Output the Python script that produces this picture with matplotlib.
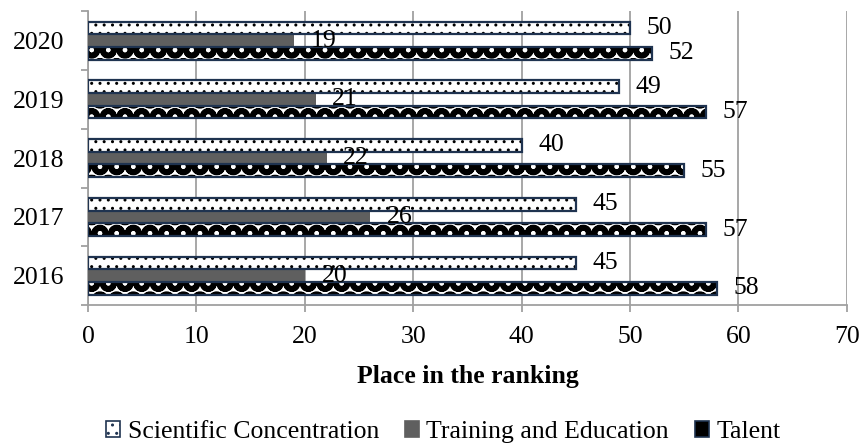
import numpy as np
import matplotlib
matplotlib.use("Agg")
import matplotlib.pyplot as plt
from matplotlib.patches import Rectangle

years = ["2016", "2017", "2018", "2019", "2020"]
scientific = [45, 45, 40, 49, 50]
training = [20, 26, 22, 21, 19]
talent = [58, 57, 55, 57, 52]
series_names = ["Scientific Concentration", "Training and Education", "Talent"]

plt.rcParams["font.family"] = ["Liberation Serif", "DejaVu Serif"]
plt.rcParams["hatch.linewidth"] = 1.0

fs = 18.5
fig = plt.figure(figsize=(8.64, 4.48), dpi=100)
ax = fig.add_axes([0.102, 0.319, 0.878, 0.656])

y = np.arange(len(years))
h = 0.216
navy = "#1f3350"
grid_c = "#a0a0a0"
grey = "#5f5f5f"

# scientific concentration: white with small dots
b1 = ax.barh(y + h, scientific, height=h, color="white", edgecolor="black",
             hatch="..", linewidth=0, zorder=3)
ax.barh(y + h, scientific, height=h, fill=False, edgecolor=navy, linewidth=1.6, zorder=4)

# training: plain dark grey
b2 = ax.barh(y, training, height=h, color=grey, linewidth=0, zorder=3)

# talent: large black blobs on white
b3 = ax.barh(y - h, talent, height=h, color="white", edgecolor="black",
             hatch="O", linewidth=0, zorder=3)
ax.barh(y - h, talent, height=h, fill=False, edgecolor=navy, linewidth=1.6, zorder=4)
for p in b3:
    if hasattr(p, "set_hatch_linewidth"):
        p.set_hatch_linewidth(4.0)

for bars in (b1, b2, b3):
    ax.bar_label(bars, padding=12, fontsize=fs, zorder=5)

ax.set_xlim(0, 70)
ax.set_ylim(-0.5, len(years) - 0.5)
ax.set_xticks(np.arange(0, 71, 10))
ax.set_yticks(y)
ax.set_yticklabels(years)
ax.set_yticks(np.arange(-0.5, len(years), 1), minor=True)

ax.grid(axis="x", color=grid_c, linewidth=1.3, zorder=0)
ax.set_axisbelow(True)
for s in ("top", "right"):
    ax.spines[s].set_visible(False)
for s in ("left", "bottom"):
    ax.spines[s].set_color(grid_c)
    ax.spines[s].set_linewidth(1.3)

ax.tick_params(axis="x", length=5, width=1.3, color=grid_c, labelsize=fs, pad=10)
ax.tick_params(axis="y", which="major", length=0, labelsize=fs, pad=17)
ax.tick_params(axis="y", which="minor", length=5, width=1.3, color=grid_c)

ax.set_xlabel("Place in the ranking", fontsize=fs, fontweight="bold", labelpad=12)

# legend swatches
handles = [
    Rectangle((0, 0), 1, 1, facecolor="white", edgecolor=navy, hatch="..", linewidth=1.2),
    Rectangle((0, 0), 1, 1, facecolor=grey, edgecolor=grey, linewidth=1.2),
    Rectangle((0, 0), 1, 1, facecolor="black", edgecolor=navy, linewidth=1.2),
]
fig.legend(handles, series_names, loc="center", bbox_to_anchor=(0.513, 0.035),
           ncol=3, frameon=False, fontsize=fs, handlelength=0.55, handleheight=0.55,
           handletextpad=0.3, columnspacing=1.0)

fig.savefig("out.png", dpi=100)
